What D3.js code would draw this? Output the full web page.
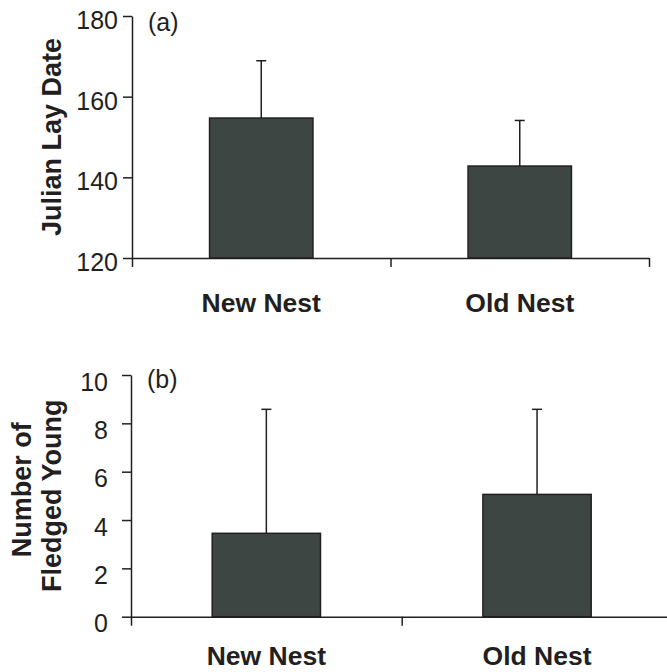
<!DOCTYPE html>
<html>
<head>
<meta charset="utf-8">
<script src="https://cdn.jsdelivr.net/npm/d3@7"></script>
<style>
  html, body { margin: 0; padding: 0; background: #fff; }
  svg { display: block; font-family: "Liberation Sans", Arial, sans-serif; }
  .axis path, .axis line { stroke: #231f20; stroke-width: 1.5; }
  .axis text { fill: #231f20; font-size: 25px; }
</style>
</head>
<body>
<svg id="chart" width="667" height="672"></svg>
<script>
const categories = [ "New Nest", "Old Nest" ];

// (a) lay date
const layDateMean = [ 154.7, 142.8 ];
const layDateErr = [ 14.2, 11.3 ];
const layDateTicks = [ 120, 140, 160, 180 ];

// (b) fledged young
const fledgedMean = [ 3.45, 5.06 ];
const fledgedErr = [ 5.13, 3.52 ];
const fledgedTicks = [ 0, 2, 4, 6, 8, 10 ];

const BAR_FILL = "#3e4644";
const INK = "#231f20";

const svg = d3.select( "#chart" );

const drawPanel = opts => {
  const g = svg.append( "g" );

  const yScale = d3.scaleLinear()
    .domain( opts.yDomain )
    .range( [ opts.bottom, opts.top ] );

  const xScale = d3.scaleBand()
    .domain( categories )
    .range( [ opts.left, opts.right ] )
    .paddingInner( 0.6 )
    .paddingOuter( 0.3 );

  // category boundary ticks
  const bounds = d3.scaleLinear()
    .domain( [ 0, categories.length ] )
    .range( [ opts.left, opts.right ] );

  const yAxis = d3.axisLeft( yScale )
    .tickValues( opts.ticks )
    .tickSize( 9 )
    .tickSizeOuter( 0 )
    .tickPadding( opts.tickPad );

  const xAxis = d3.axisBottom( bounds )
    .tickValues( d3.range( 0, categories.length + 1 ) )
    .tickSize( 9 )
    .tickSizeOuter( 0 )
    .tickFormat( "" );

  const data = categories.map( ( c, i ) => ( { c, mean: opts.mean[i], err: opts.err[i] } ) );

  // error bars (upper only)
  const eb = g.selectAll( ".err" )
    .data( data )
    .enter()
    .append( "g" )
    .attr( "class", "err" )
    .attr( "stroke", INK )
    .attr( "stroke-width", 1.5 );

  eb.append( "line" )
    .attr( "x1", d => xScale( d.c ) + xScale.bandwidth() / 2 )
    .attr( "x2", d => xScale( d.c ) + xScale.bandwidth() / 2 )
    .attr( "y1", d => yScale( d.mean ) )
    .attr( "y2", d => yScale( d.mean + d.err ) );

  eb.append( "line" )
    .attr( "x1", d => xScale( d.c ) + xScale.bandwidth() / 2 - 5 )
    .attr( "x2", d => xScale( d.c ) + xScale.bandwidth() / 2 + 5 )
    .attr( "y1", d => yScale( d.mean + d.err ) )
    .attr( "y2", d => yScale( d.mean + d.err ) );

  g.selectAll( "rect" )
    .data( data )
    .enter()
    .append( "rect" )
    .attr( "x", d => xScale( d.c ) )
    .attr( "y", d => yScale( d.mean ) )
    .attr( "width", xScale.bandwidth() )
    .attr( "height", d => opts.bottom - yScale( d.mean ) )
    .attr( "fill", BAR_FILL )
    .attr( "stroke", INK )
    .attr( "stroke-width", 1.5 );

  g.append( "g" )
    .attr( "class", "axis" )
    .attr( "transform", `translate(${opts.left},0)` )
    .call( yAxis )
    .selectAll( "text" )
    .attr( "dy", opts.tickDy );

  g.append( "g" )
    .attr( "class", "axis" )
    .attr( "transform", `translate(0,${opts.bottom})` )
    .call( xAxis );

  g.selectAll( ".cat" )
    .data( categories )
    .enter()
    .append( "text" )
    .attr( "class", "cat" )
    .attr( "x", d => xScale( d ) + xScale.bandwidth() / 2 )
    .attr( "y", opts.catY )
    .attr( "text-anchor", "middle" )
    .attr( "font-size", 26.5 )
    .attr( "font-weight", "bold" )
    .attr( "fill", INK )
    .text( d => d );

  g.append( "text" )
    .attr( "x", opts.left + 16 )
    .attr( "y", opts.panelY )
    .attr( "font-size", 25 )
    .attr( "fill", INK )
    .text( opts.panel );

  const midY = ( opts.top + opts.bottom ) / 2;
  const title = g.append( "text" )
    .attr( "transform", `translate(0,${midY}) rotate(-90)` )
    .attr( "text-anchor", "middle" )
    .attr( "font-size", 27 )
    .attr( "font-weight", "bold" )
    .attr( "fill", INK );

  opts.title.forEach( ( line, i ) => {
    title.append( "tspan" )
      .attr( "x", opts.titleShift[i] )
      .attr( "y", opts.titleX[i] )
      .text( line );
  } );
};

drawPanel( {
  yDomain   : [ 120, 180 ],
  ticks     : layDateTicks,
  mean      : layDateMean,
  err       : layDateErr,
  top       : 16,
  bottom    : 258,
  left      : 132,
  right     : 649,
  tickPad   : 5,
  tickDy    : "0.5em",
  catY      : 312,
  panel     : "(a)",
  panelY    : 31,
  title     : [ "Julian Lay Date" ],
  titleX    : [ 61 ],
  titleShift: [ 0 ],
} );

drawPanel( {
  yDomain   : [ 0, 10 ],
  ticks     : fledgedTicks,
  mean      : fledgedMean,
  err       : fledgedErr,
  top       : 375,
  bottom    : 616.7,
  left      : 131,
  right     : 672.4,
  tickPad   : 14,
  tickDy    : "0.6em",
  catY      : 665,
  panel     : "(b)",
  panelY    : 388,
  title     : [ "Number of", "Fledged Young" ],
  titleX    : [ 31, 61 ],
  titleShift: [ 6, 0 ],
} );
</script>
</body>
</html>
